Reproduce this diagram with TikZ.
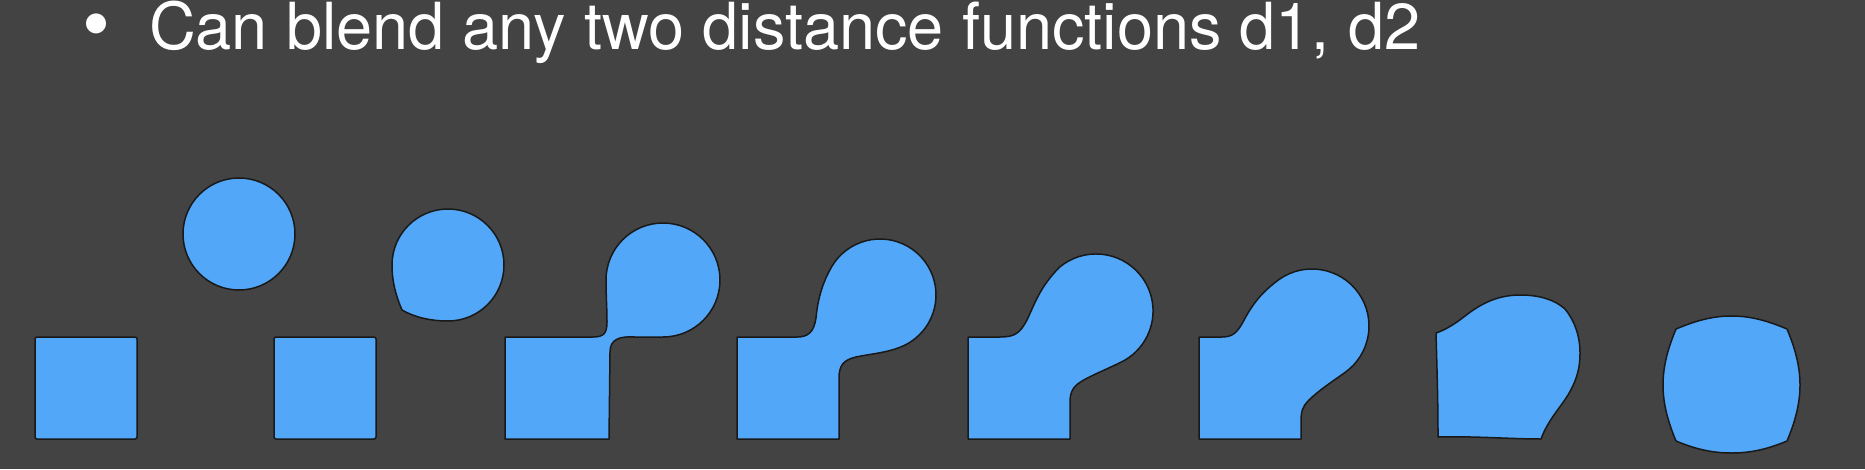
\documentclass[tikz,border=0pt]{standalone}
\usepackage{fontspec}
\setmainfont{TeX Gyre Heros}
\definecolor{bgc}{RGB}{67,67,67}
\definecolor{blobc}{RGB}{82,167,249}
\tikzset{
  blob/.style={fill=blobc, draw=black!90, line width=1.5pt, line join=round},
  sqr/.style={blob, rounded corners=2},
  txt/.style={text=white, inner sep=0pt, outer sep=0pt}
}
\begin{document}
\begin{tikzpicture}[x=1pt,y=-1pt]
\fill[bgc] (0,0) rectangle (1865,469);
\useasboundingbox (0,0) rectangle (1865,469);
% title
\node[txt, anchor=base, text height=36pt, text depth=0pt, font=\fontsize{80}{80}\selectfont] (bul) at (96,51) {•};
\node[txt, anchor=base west, font=\fontsize{64.9}{70}\selectfont] (title) at (149,49.3) {Can blend any two distance functions d1, d2};
% shape 1
\draw[sqr] (35,337) rectangle (137,439);
\draw[blob] (239,234) circle[radius=56];
% shape 2
\draw[sqr] (274,337) rectangle (376,439);
\draw[blob] (392,265) arc[start angle=180, end angle=450, radius=56]
  .. controls (430,321) and (414,317) .. (402,310)
  .. controls (396,296) and (392,282) .. (392,265) -- cycle;
% shape 3
\draw[blob] (505,439) -- (505,337) -- (593,337)
  .. controls (604,337) and (607,333) .. (607,322)
  .. controls (607,308) and (606,296) .. (606,280)
  arc[start angle=180, end angle=450, radius=57]
  -- (635,337) .. controls (620,336) and (610,339) .. (610,352)
  -- (609,439) -- cycle;
% shape 4
\draw[blob] (737,439) -- (737,337) -- (797,337)
  .. controls (808,337) and (814,332) .. (816,318)
  .. controls (818,296) and (824,280) .. (831.5,267)
  arc[start angle=210, end angle=430, radius=56]
  .. controls (885,353) and (870,354) .. (856,357)
  .. controls (843,360) and (839,366) .. (839,378)
  -- (839,439) -- cycle;
% shape 5
\draw[blob] (968,439) -- (968,337) -- (1000,337)
  .. controls (1015,337) and (1020,333) .. (1027,320)
  .. controls (1035,303) and (1040,287) .. (1059.4,267.3)
  arc[start angle=230, end angle=420, radius=57]
  .. controls (1112,367) and (1092,375) .. (1082,381)
  .. controls (1072,387) and (1070,393) .. (1070,403)
  -- (1070,439) -- cycle;
% shape 6
\draw[blob] (1199,439) -- (1199,337) -- (1222,337)
  .. controls (1232,337) and (1237,333) .. (1243,322)
  .. controls (1253,303) and (1262,292) .. (1279.3,279.3)
  arc[start angle=235, end angle=415, radius=57]
  .. controls (1333,381) and (1318,391) .. (1309,400)
  .. controls (1302,407) and (1301,412) .. (1301,422)
  -- (1301,439) -- cycle;
% shape 7
\draw[blob] (1436,333) .. controls (1437,370) and (1438,400) .. (1438,437)
  .. controls (1475,436) and (1510,439) .. (1541,439)
  .. controls (1548,420) and (1560,408) .. (1568,395)
  .. controls (1578,378) and (1580,366) .. (1580,353)
  .. controls (1580,335) and (1574,320) .. (1565,309)
  .. controls (1555,300) and (1540,295) .. (1520,295)
  .. controls (1495,295) and (1478,306) .. (1465,316)
  .. controls (1455,324) and (1445,330) .. (1436,333) -- cycle;
% shape 8
\draw[blob] (1676,329) .. controls (1695,321) and (1712,316) .. (1731.5,316)
  .. controls (1751,316) and (1768,321) .. (1787,329)
  .. controls (1795,348) and (1800,366) .. (1800,385)
  .. controls (1800,404) and (1795,422) .. (1787,441)
  .. controls (1768,449) and (1751,453) .. (1731.5,453)
  .. controls (1712,453) and (1695,449) .. (1676,441)
  .. controls (1668,422) and (1663,404) .. (1663,385)
  .. controls (1663,366) and (1668,348) .. (1676,329) -- cycle;
\end{tikzpicture}
\end{document}
